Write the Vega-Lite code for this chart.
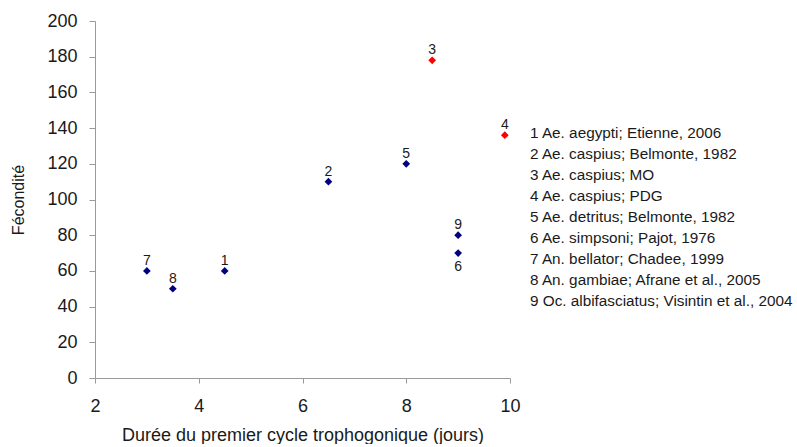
{
  "$schema": "https://vega.github.io/schema/vega-lite/v6.json",
  "padding": {"left": 10, "top": 12, "right": 0, "bottom": 0},
  "background": "#ffffff",
  "config": {
    "view": {"stroke": null},
    "font": "Liberation Sans",
    "concat": {"spacing": 9}
  },
  "datasets": {
    "points": [
      {"n": 1, "duree": 4.5, "fecondite": 60, "groupe": "autre"},
      {"n": 2, "duree": 6.5, "fecondite": 110, "groupe": "autre"},
      {"n": 3, "duree": 8.5, "fecondite": 178, "groupe": "Ae. caspius (étude)"},
      {"n": 4, "duree": 9.9, "fecondite": 136, "groupe": "Ae. caspius (étude)"},
      {"n": 5, "duree": 8, "fecondite": 120, "groupe": "autre"},
      {"n": 6, "duree": 9, "fecondite": 70, "groupe": "autre"},
      {"n": 7, "duree": 3, "fecondite": 60, "groupe": "autre"},
      {"n": 8, "duree": 3.5, "fecondite": 50, "groupe": "autre"},
      {"n": 9, "duree": 9, "fecondite": 80, "groupe": "autre"}
    ],
    "legende": [
      {"n": 1, "texte": "1 Ae. aegypti; Etienne, 2006"},
      {"n": 2, "texte": "2 Ae. caspius; Belmonte, 1982"},
      {"n": 3, "texte": "3 Ae. caspius; MO"},
      {"n": 4, "texte": "4 Ae. caspius; PDG"},
      {"n": 5, "texte": "5 Ae. detritus; Belmonte, 1982"},
      {"n": 6, "texte": "6 Ae. simpsoni; Pajot, 1976"},
      {"n": 7, "texte": "7 An. bellator; Chadee, 1999"},
      {"n": 8, "texte": "8 An. gambiae; Afrane et al., 2005"},
      {"n": 9, "texte": "9 Oc. albifasciatus; Visintin et al., 2004"}
    ]
  },
  "hconcat": [
    {
      "width": 415,
      "height": 357,
      "data": {"name": "points"},
      "encoding": {
        "x": {
          "field": "duree",
          "type": "quantitative",
          "title": "Durée du premier cycle trophogonique (jours)",
          "scale": {"domain": [2, 10], "nice": false, "zero": false},
          "axis": {
            "values": [2, 4, 6, 8, 10],
            "grid": false,
            "labelFlush": false,
            "domainColor": "#9a9a9a",
            "tickColor": "#9a9a9a",
            "tickSize": 5,
            "labelFontSize": 18,
            "labelPadding": 14,
            "labelColor": "#1a1a1a",
            "titleFontSize": 18,
            "titleFontWeight": "normal",
            "titleColor": "#1a1a1a",
            "titlePadding": 11
          }
        },
        "y": {
          "field": "fecondite",
          "type": "quantitative",
          "title": "Fécondité",
          "scale": {"domain": [0, 200], "nice": false},
          "axis": {
            "values": [0, 20, 40, 60, 80, 100, 120, 140, 160, 180, 200],
            "grid": false,
            "labelFlush": false,
            "domainColor": "#9a9a9a",
            "tickColor": "#9a9a9a",
            "tickSize": 6,
            "labelFontSize": 18,
            "labelPadding": 12,
            "labelColor": "#1a1a1a",
            "titleFontSize": 16,
            "titleFontWeight": "normal",
            "titleColor": "#1a1a1a",
            "titlePadding": 20
          }
        }
      },
      "layer": [
        {
          "mark": {"type": "point", "shape": "diamond", "filled": true, "size": 60, "opacity": 1},
          "encoding": {
            "color": {
              "field": "groupe",
              "type": "nominal",
              "scale": {"domain": ["autre", "Ae. caspius (étude)"], "range": ["#000080", "#ff0000"]},
              "legend": null
            }
          }
        },
        {
          "transform": [{"filter": "datum.n != 6"}],
          "mark": {"type": "text", "fontSize": 14, "dy": -6, "baseline": "alphabetic", "color": "#1a1a1a"},
          "encoding": {"text": {"field": "n", "type": "nominal"}}
        },
        {
          "transform": [{"filter": "datum.n == 6"}],
          "mark": {"type": "text", "fontSize": 14, "dy": 18, "baseline": "alphabetic", "color": "#1a1a1a"},
          "encoding": {"text": {"field": "n", "type": "nominal"}}
        }
      ]
    },
    {
      "width": 262,
      "height": 357,
      "data": {"name": "legende"},
      "mark": {"type": "text", "align": "left", "baseline": "middle", "fontSize": 15.3, "color": "#1a1a1a"},
      "encoding": {
        "x": {"datum": 0, "type": "quantitative", "scale": {"domain": [0, 1]}, "axis": null},
        "y": {
          "field": "n",
          "type": "quantitative",
          "scale": {"domain": [-4.333, 12.667], "reverse": true, "nice": false, "zero": false},
          "axis": null
        },
        "text": {"field": "texte", "type": "nominal"}
      }
    }
  ]
}
